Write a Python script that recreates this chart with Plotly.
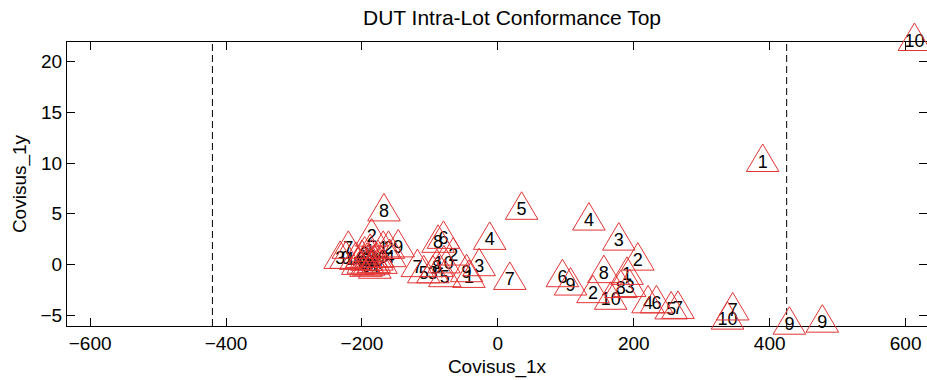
import plotly.graph_objects as go

# Per-DUT conformance results (lot index labels, x/y covisus offsets)
dut_label = [10, 1, 9, 9, 10, 7, 5, 7, 4, 6,
             10, 2, 8, 3, 1, 8, 2, 3, 4, 6,
             9, 5, 4, 3, 7, 9, 1, 2, 6, 8,
             10, 5, 7, 5, 3, 8, 8, 2, 7, 3,
             9, 1, 2, 9, 4, 10, 6, 5, 1, 3,
             10, 6, 4, 7, 5, 8, 9, 2, 1, 3,
             4]
cov_x = [613, 389.7, 429, 477.5, 338, 345.6, 255, 265, 221, 233.4,
         166, 140, 181, 194, 190, 156, 206, 178, 134, 95,
         107, 35, -12, -27.5, 17.6, -46, -42.6, -65.7, -80, -88,
         -79.4, -78, -118.4, -109, -95.6, -89.7, -167.6, -185.7, -220, -232,
         -223.5, -168.7, -161, -146.6, -159, -209, -200, -192.6, -188, -182,
         -176.5, -194, -181, -172, -206, -198, -190, -186, -178, -196,
         -184]
cov_y = [21.9, 10.0, -6.0, -5.8, -5.5, -4.6, -4.5, -4.45, -3.9, -3.9,
         -3.55, -2.9, -2.4, -2.3, -1.1, -0.93, 0.3, 2.27, 4.24, -1.33,
         -2.15, 5.3, 2.34, -0.25, -1.6, -0.84, -1.4, 0.8, 2.44, 2.05,
         0.03, -1.33, -0.34, -0.95, -0.95, -0.34, 5.14, 2.66, 1.46, 0.47,
         0.47, 1.46, 1.46, 1.6, 0.64, 0.37, 0.57, 0.28, 1.16, 0.08,
         0.57, -0.31, -0.5, -0.02, -0.12, 0.0, -0.2, 0.6, 0.3, 0.9,
         -0.1]

# Conformance limits on Covisus_1x
limit_x = [-420, 425]

x_ticks = [-600, -400, -200, 0, 200, 400, 600]
y_ticks = [-5, 0, 5, 10, 15, 20]

FONT = "Liberation Sans, Arial, sans-serif"
TRI_COLOR = "rgb(226,52,52)"

# figure size and the pixel box of the visible axes
W, H = 927, 380
L, R, T, B = 67, 0, 42, 54
X_RANGE = [-634.0, 631.5]
Y_RANGE = [-6.03, 21.9]


def widened(rng, lo_px, hi_px, span_px):
    """Range of an overlay axis that spans the whole figure with the same scale."""
    per_px = (rng[1] - rng[0]) / span_px
    return [rng[0] - lo_px * per_px, rng[1] + hi_px * per_px]


x_full = widened(X_RANGE, L, R, W - L - R)
y_full = widened(Y_RANGE, B, T, H - T - B)

fig = go.Figure()

# number labels sitting inside each triangle (drawn on the full-figure overlay
# so marks near the frame are not cut off)
fig.add_trace(go.Scatter(
    x=cov_x, y=cov_y, mode="text", xaxis="x2", yaxis="y2",
    text=[str(v) for v in dut_label],
    textposition="middle center",
    textfont=dict(family=FONT, size=18, color="black"),
    cliponaxis=False, showlegend=False, hoverinfo="x+y+text",
))

# open triangle marker per DUT, sized in screen pixels around the data point
shapes = []
for xv, yv in zip(cov_x, cov_y):
    shapes.append(dict(
        type="path", xref="x2", yref="y2",
        xsizemode="pixel", ysizemode="pixel",
        xanchor=xv, yanchor=yv,
        path="M -16.3 -8.5 L 16.3 -8.5 L 0 19 Z",
        line=dict(color=TRI_COLOR, width=1),
        layer="above",
    ))

# dashed limit lines spanning the full plot height
for lx in limit_x:
    shapes.append(dict(
        type="line", xref="x", yref="y domain",
        x0=lx, x1=lx, y0=0, y1=1,
        line=dict(color="black", width=1, dash="7px,4px"),
        layer="below",
    ))

axis_common = dict(
    showline=True, linecolor="black", linewidth=1, mirror="ticks",
    ticks="inside", ticklen=8, tickcolor="black", tickwidth=1,
    showgrid=False, zeroline=False,
    tickfont=dict(family=FONT, size=19, color="black"),
)

fig.update_layout(
    width=W, height=H,
    margin=dict(l=0, r=0, t=0, b=0),
    paper_bgcolor="white", plot_bgcolor="rgba(0,0,0,0)",
    shapes=shapes,
    title=dict(text="DUT Intra-Lot Conformance Top", x=512 / W, xanchor="center",
               y=1 - 18 / H, yanchor="middle",
               font=dict(family=FONT, size=21, color="black")),
    xaxis=dict(range=X_RANGE, tickvals=x_ticks,
               domain=[L / W, (W - R) / W], anchor="y",
               title=dict(text="Covisus_1x", standoff=6,
                          font=dict(family=FONT, size=19, color="black")),
               **axis_common),
    yaxis=dict(range=Y_RANGE, tickvals=y_ticks,
               domain=[B / H, (H - T) / H], anchor="x",
               title=dict(text="Covisus_1y", standoff=8,
                          font=dict(family=FONT, size=19, color="black")),
               **axis_common),
    xaxis2=dict(range=x_full, domain=[0, 1], anchor="y2", visible=False),
    yaxis2=dict(range=y_full, domain=[0, 1], anchor="x2", visible=False),
)

fig.write_html("out.html")
